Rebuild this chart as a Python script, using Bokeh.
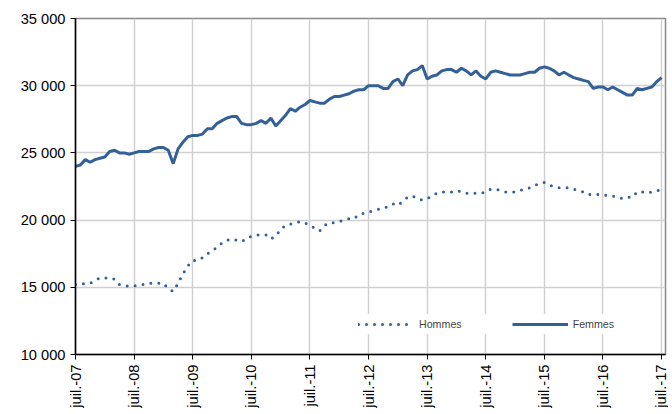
from math import pi
from bokeh.plotting import figure
from bokeh.models import Legend, LegendItem, FixedTicker, Range1d
from bokeh.embed import file_html
from bokeh.resources import INLINE

tick_labels = ["juil.-%02d" % y for y in range(7, 18)]
y_ticks = [10000, 15000, 20000, 25000, 30000, 35000]

# monthly values (thousands), Jul 2007 .. Jul 2017
femmes = [
    24.0, 24.1, 24.5, 24.3, 24.5, 24.6, 24.7, 25.1, 25.2, 25.0, 25.0, 24.9,
    25.0, 25.1, 25.1, 25.1, 25.3, 25.4, 25.4, 25.2, 24.2, 25.3, 25.8, 26.2,
    26.3, 26.3, 26.4, 26.8, 26.8, 27.2, 27.4, 27.6, 27.7, 27.7, 27.2, 27.1,
    27.1, 27.2, 27.4, 27.2, 27.6, 27.0, 27.4, 27.8, 28.3, 28.1, 28.4, 28.6,
    28.9, 28.8, 28.7, 28.7, 29.0, 29.2, 29.2, 29.3, 29.4, 29.6, 29.7, 29.7,
    30.0, 30.0, 30.0, 29.8, 29.8, 30.3, 30.5, 30.0, 30.8, 31.1, 31.2, 31.5,
    30.5, 30.7, 30.8, 31.1, 31.2, 31.2, 31.0, 31.3, 31.1, 30.8, 31.1, 30.7,
    30.5, 31.0, 31.1, 31.0, 30.9, 30.8, 30.8, 30.8, 30.9, 31.0, 31.0, 31.3,
    31.4, 31.3, 31.1, 30.8, 31.0, 30.8, 30.6, 30.5, 30.4, 30.3, 29.8, 29.9,
    29.9, 29.7, 29.9, 29.7, 29.5, 29.3, 29.3, 29.8, 29.7, 29.8, 29.9, 30.3,
    30.6,
]
hommes = [
    15.2, 15.2, 15.3, 15.3, 15.5, 15.7, 15.7, 15.7, 15.6, 15.2, 15.1, 15.1,
    15.1, 15.2, 15.2, 15.3, 15.3, 15.3, 15.3, 14.9, 14.7, 15.3, 16.0, 16.6,
    17.0, 17.0, 17.2, 17.5, 17.7, 18.0, 18.3, 18.5, 18.6, 18.5, 18.4, 18.6,
    18.8, 18.9, 18.9, 18.9, 18.6, 18.8, 19.3, 19.6, 19.7, 19.8, 19.9, 19.8,
    19.6, 19.4, 19.2, 19.6, 19.8, 19.8, 19.9, 20.0, 20.1, 20.1, 20.4, 20.5,
    20.6, 20.7, 20.8, 20.9, 21.0, 21.2, 21.1, 21.4, 21.7, 21.8, 21.6, 21.5,
    21.6, 21.8, 22.0, 22.1, 22.1, 22.1, 22.2, 22.1, 22.0, 22.0, 22.0, 22.0,
    22.1, 22.3, 22.3, 22.2, 22.1, 22.1, 22.1, 22.2, 22.3, 22.4, 22.6, 22.7,
    22.8, 22.6, 22.5, 22.4, 22.4, 22.4, 22.3, 22.2, 22.1, 21.9, 21.9, 21.9,
    21.9, 21.8, 21.8, 21.7, 21.6, 21.7, 21.7, 22.1, 22.1, 22.0, 22.1, 22.2,
    22.2,
]

months = list(range(len(femmes)))
color = "#336197"
font = "Liberation Sans"

p = figure(width=668, height=410, output_backend="svg", toolbar_location=None,
           x_range=Range1d(0, 120.8), y_range=Range1d(10000, 35000),
           min_border_left=75, min_border_top=18, min_border_bottom=52,
           min_border_right=3)

p.outline_line_color = "#888888"
p.outline_line_width = 1.5

r_h = p.line(months, [v * 1000 for v in hommes], line_color=color,
             line_width=3, line_dash="0 8", line_cap="round")
r_f = p.line(months, [v * 1000 for v in femmes], line_color=color,
             line_width=3)

p.xaxis.ticker = FixedTicker(ticks=list(range(0, 121, 12)))
p.xaxis.major_label_overrides = {i * 12: t for i, t in enumerate(tick_labels)}
p.xaxis.major_label_orientation = pi / 2
p.yaxis.ticker = FixedTicker(ticks=y_ticks)
p.yaxis.major_label_overrides = {v: "{:,}".format(v).replace(",", " ")
                                 for v in y_ticks}

for ax in (p.xaxis, p.yaxis):
    ax.axis_line_color = "black"
    ax.axis_line_width = 1.5
    ax.major_tick_line_color = "black"
    ax.major_tick_out = 5
    ax.major_tick_in = 0
    ax.minor_tick_line_color = None
    ax.major_label_text_font = font
    ax.major_label_text_font_size = "11pt"
    ax.major_label_text_color = "black"

p.grid.grid_line_color = "#d0d0d0"
p.grid.grid_line_width = 1.5

legend = Legend(items=[LegendItem(label="Hommes", renderers=[r_h]),
                       LegendItem(label="Femmes", renderers=[r_f])],
                orientation="horizontal", location=(283, 20),
                glyph_width=56, spacing=50, padding=12,
                label_text_font=font, label_text_font_size="8pt",
                border_line_color=None, background_fill_color="white",
                background_fill_alpha=1.0)
p.add_layout(legend)

open("out.html", "w").write(file_html(p, INLINE))
